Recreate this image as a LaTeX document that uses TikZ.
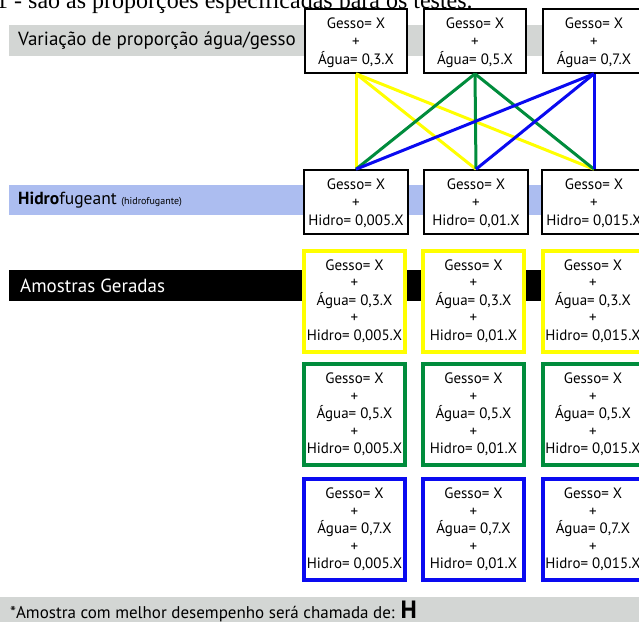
\documentclass[tikz,border=0pt]{standalone}
\usepackage{fontspec}
\setmainfont{PT Sans}
\newfontfamily\serifface{Liberation Serif}
\definecolor{graybar}{RGB}{211,214,212}
\definecolor{bluebar}{RGB}{172,189,240}
\definecolor{yel}{RGB}{255,255,0}
\definecolor{grn}{RGB}{0,140,60}
\definecolor{blu}{RGB}{10,10,240}
\tikzset{
  boxbase/.style={rectangle, fill=white, align=center, inner sep=0pt, text=black},
  topbox/.style={boxbase, draw=black, line width=1.6pt, minimum width=102pt, minimum height=64pt, text depth=0pt, font=\fontsize{15}{18}\selectfont},
  samplebox/.style={boxbase, line width=4pt, minimum width=101pt, minimum height=101pt, font=\fontsize{15}{17.5}\selectfont},
  conn/.style={line width=3pt},
  barlabel/.style={anchor=west, inner sep=0pt}
}
\begin{document}
\begin{tikzpicture}[x=1pt,y=-1pt]
\useasboundingbox (0,0) rectangle (639,622);
\clip (0,0) rectangle (639,622);
% cropped caption line at the very top
\node[anchor=base west, inner sep=0pt, font=\serifface\fontsize{24}{28}\selectfont] (cap) at (-4,8) {1 - são as proporções especificadas para os testes.};
% bars
\fill[graybar] (9,25) rectangle (639,56);
\fill[bluebar] (9,185) rectangle (639,215);
\fill[black] (9,270) rectangle (639,301);
\fill[graybar] (0,597) rectangle (639,622);
% bar labels
\node[barlabel, font=\fontsize{19}{21}\selectfont] (lab1) at (18,41) {Variação de proporção água/gesso};
\node[barlabel, font=\fontsize{17.5}{20}\selectfont] (lab2) at (18,200) {\textbf{Hidro}fugeant {\fontsize{10}{12}\selectfont (hidrofugante)}};
\node[barlabel, font=\fontsize{19}{21}\selectfont, text=white] (lab3) at (20,286) {Amostras Geradas};
\node[barlabel, font=\fontsize{17}{20}\selectfont] (lab4) at (10,611) {*Amostra com melhor desempenho será chamada de: {\fontsize{25}{26}\selectfont\textbf{H}}};
% top boxes
\node[topbox] (t1) at (356,41) {Gesso= X\\+\\Água= 0,3.X};
\node[topbox] (t2) at (475,41) {Gesso= X\\+\\Água= 0,5.X};
\node[topbox] (t3) at (594,41) {Gesso= X\\+\\Água= 0,7.X};
% hidro boxes
\node[topbox, minimum width=104pt] (h1) at (356,202) {Gesso= X\\+\\Hidro= 0,005.X};
\node[topbox, minimum width=104pt] (h2) at (476,202) {Gesso= X\\+\\Hidro= 0,01.X};
\node[topbox, minimum width=104pt] (h3) at (594,202) {Gesso= X\\+\\Hidro= 0,015.X};
% connectors
\foreach \h in {h1,h2,h3} \draw[conn, yel] (t1.south) -- (\h.north);
\foreach \h in {h1,h2,h3} \draw[conn, grn] (t2.south) -- (\h.north);
\foreach \h in {h1,h2,h3} \draw[conn, blu] (t3.south) -- (\h.north);
% sample boxes
\foreach \c/\col/\y/\a in {yel/y/301/{0,3}, grn/g/414.5/{0,5}, blu/b/529.5/{0,7}} {
  \node[samplebox, draw=\c] (s\col1) at (354.5,\y) {Gesso= X\\+\\Água= \a.X\\+\\Hidro= 0,005.X};
  \node[samplebox, draw=\c] (s\col2) at (473.5,\y) {Gesso= X\\+\\Água= \a.X\\+\\Hidro= 0,01.X};
  \node[samplebox, draw=\c] (s\col3) at (593,\y) {Gesso= X\\+\\Água= \a.X\\+\\Hidro= 0,015.X};
}
\end{tikzpicture}
\end{document}
